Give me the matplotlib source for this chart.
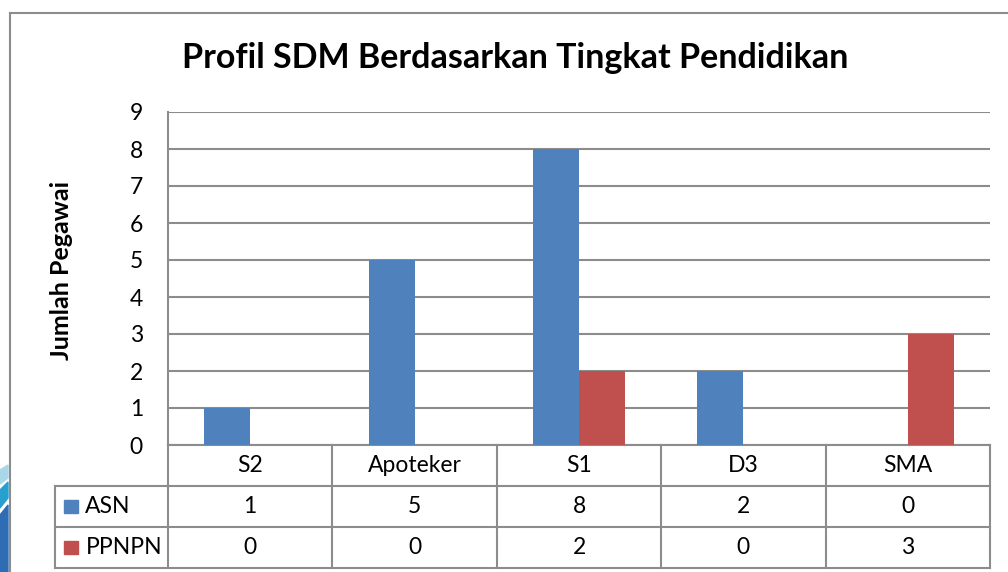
import matplotlib.pyplot as plt
from matplotlib.patches import Polygon, Rectangle
from matplotlib.lines import Line2D
from matplotlib.transforms import blended_transform_factory

# Data
categories = ['S2', 'Apoteker', 'S1', 'D3', 'SMA']
series_names = ['ASN', 'PPNPN']
asn = [1, 5, 8, 2, 0]
ppnpn = [0, 0, 2, 0, 3]
series_values = [asn, ppnpn]
colors = ['#4F81BD', '#C0504D']
yticks = list(range(0, 10))

W, H = 1008, 572
plt.rcParams['font.family'] = ['Lato', 'DejaVu Sans']
FS = 16.5

fig = plt.figure(figsize=(W / 100, H / 100), dpi=100)

# plot area in pixels
px_left, px_right, px_top, px_bottom = 168, 990, 112, 445
ax = fig.add_axes([px_left / W, 1 - px_bottom / H,
                   (px_right - px_left) / W, (px_bottom - px_top) / H])

grid_color = '#8C8C8C'
bar_w = 0.28
for s, (vals, col) in enumerate(zip(series_values, colors)):
    offset = -bar_w / 2 if s == 0 else bar_w / 2
    xs = [i + 0.5 + offset for i in range(len(categories))]
    ax.bar(xs, vals, width=bar_w, color=col, zorder=3)

ax.set_xlim(0, len(categories))
ax.set_ylim(0, 9)
ax.set_yticks(yticks)
ax.set_xticks([])
ax.yaxis.grid(True, color=grid_color, linewidth=1.5, zorder=0)
ax.tick_params(axis='y', length=0, pad=18, labelsize=FS)
for side in ['top', 'right', 'bottom']:
    ax.spines[side].set_visible(False)
ax.spines['left'].set_color(grid_color)
ax.spines['left'].set_linewidth(1.5)

ax.set_ylabel('Jumlah Pegawai', fontsize=18, fontweight='bold')
ax.yaxis.set_label_coords((73 - px_left) / (px_right - px_left),
                          (px_bottom - 270) / (px_bottom - px_top))
fig.text(515 / W, 1 - 58 / H, 'Profil SDM Berdasarkan Tingkat Pendidikan',
         ha='center', va='center', fontsize=24.5, fontweight='bold')

# data table under the axis
tr = blended_transform_factory(ax.transData, ax.transAxes)
ax_h = px_bottom - px_top
col_w = (px_right - px_left) / len(categories)
row_px = [445, 486, 527, 568]
row_y = [-(r - px_bottom) / ax_h for r in row_px]
label_x = (55 - px_left) / col_w
n = len(categories)
lw = 1.5

def hline(x0, x1, y):
    ax.add_line(Line2D([x0, x1], [y, y], transform=tr, color=grid_color,
                       linewidth=lw, clip_on=False))

def vline(x, y0, y1):
    ax.add_line(Line2D([x, x], [y0, y1], transform=tr, color=grid_color,
                       linewidth=lw, clip_on=False))

hline(0, n, row_y[0])
for y in row_y[1:]:
    hline(label_x, n, y)
for i in range(n + 1):
    vline(i, row_y[0], row_y[3])
vline(label_x, row_y[1], row_y[3])

for i, cat in enumerate(categories):
    ax.text(i + 0.5, (row_y[0] + row_y[1]) / 2, cat, transform=tr,
            ha='center', va='center', fontsize=FS)
for r, (name, vals, col) in enumerate(zip(series_names, series_values, colors)):
    yc = (row_y[r + 1] + row_y[r + 2]) / 2
    for i, v in enumerate(vals):
        ax.text(i + 0.5, yc, str(v), transform=tr, ha='center', va='center',
                fontsize=FS)
    ax.add_patch(Rectangle((label_x + 0.054, yc - 0.021), 0.087, 0.042,
                           transform=tr, color=col, clip_on=False))
    ax.text(label_x + 0.185, yc, name, transform=tr, ha='left', va='center',
            fontsize=FS)

# outer chart border
fig.add_artist(Line2D([10 / W, 10 / W], [0, 1 - 13 / H], color='#8C8C8C',
                      linewidth=1.5))
fig.add_artist(Line2D([10 / W, 1], [1 - 13 / H, 1 - 13 / H], color='#8C8C8C',
                      linewidth=1.5))

# stripe decoration at bottom left
stripes = [
    ([(0, 470), (8, 465), (8, 478), (0, 484)], '#A8D8E8'),
    ([(0, 490), (8, 482), (8, 498), (0, 508)], '#27A0CF'),
    ([(0, 515), (8, 505), (8, 572), (0, 572)], '#2E6DB4'),
]
for pts, c in stripes:
    fig.add_artist(Polygon([(x / W, 1 - y / H) for x, y in pts], closed=True,
                           color=c, transform=fig.transFigure))

fig.savefig('out.png', dpi=100)
